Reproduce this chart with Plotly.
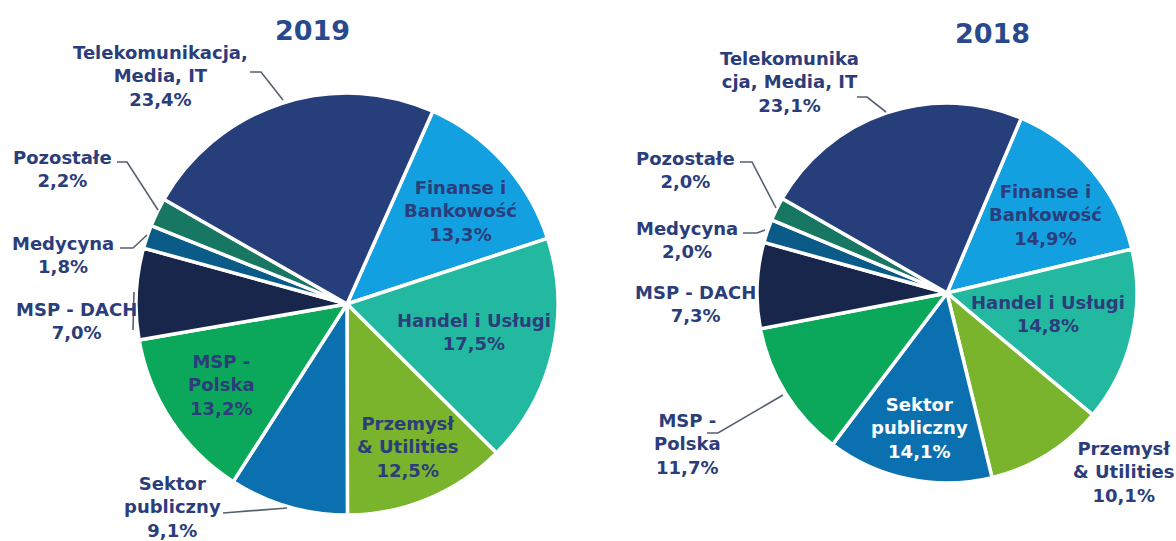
import plotly.graph_objects as go

W, H = 1176, 541

# ---- data ----
categories = ["Finanse i Bankowość", "Handel i Usługi", "Przemysł & Utilities",
              "Sektor publiczny", "MSP - Polska", "MSP - DACH", "Medycyna",
              "Pozostałe", "Telekomunikacja, Media, IT"]
values_2019 = [13.3, 17.5, 12.5, 9.1, 13.2, 7.0, 1.8, 2.2, 23.4]
values_2018 = [14.9, 14.8, 10.1, 14.1, 11.7, 7.3, 2.0, 2.0, 23.1]
titles = ["2019", "2018"]

colors = ["#12a0e0", "#22b9a0", "#79b42c", "#0b70af", "#0ba85b",
          "#18264b", "#0b5b88", "#187762", "#263f7b"]

TXT = "#2b3d7a"
LINE = "#56606f"
FONT = "DejaVu Sans"


def pxx(x):
    return x / W


def pxy(y):
    return 1 - y / H


def dom(cx, cy, r):
    return dict(x=[pxx(cx - r), pxx(cx + r)], y=[pxy(cy + r), pxy(cy - r)])


fig = go.Figure()
fig.add_trace(go.Pie(labels=categories, values=values_2019, sort=False,
                     direction="clockwise", rotation=24,
                     marker=dict(colors=colors, line=dict(color="white", width=3.5)),
                     textinfo="none", hoverinfo="label+percent",
                     domain=dom(347, 304, 211), showlegend=False))
fig.add_trace(go.Pie(labels=categories, values=values_2018, sort=False,
                     direction="clockwise", rotation=23,
                     marker=dict(colors=colors, line=dict(color="white", width=3.5)),
                     textinfo="none", hoverinfo="label+percent",
                     domain=dom(947, 293, 190), showlegend=False))


def fmt(v):
    return f"{v:.1f}".replace(".", ",") + "%"


# label texts (line-broken names), built from categories
names_2019 = ["Finanse i<br>Bankowość", "Handel i Usługi", "Przemysł<br>& Utilities",
              "Sektor<br>publiczny", "MSP -<br>Polska", "MSP - DACH", "Medycyna",
              "Pozostałe", "Telekomunikacja,<br>Media, IT"]
names_2018 = ["Finanse i<br>Bankowość", "Handel i Usługi", "Przemysł<br>& Utilities",
              "Sektor<br>publiczny", "MSP -<br>Polska", "MSP - DACH", "Medycyna",
              "Pozostałe", "Telekomunika<br>cja, Media, IT"]

# label centre positions (px) and text colours
pos_2019 = [(460, 211), (474, 332), (407, 447), (172, 507), (222, 385),
            (76, 321), (63, 255), (62, 169), (160, 76)]
pos_2018 = [(1045, 215), (1048, 314), (1123, 472), (919, 428), (687, 444),
            (695, 304), (687, 240), (685, 170), (789, 82)]
col_2018 = [TXT, TXT, TXT, "white", TXT, TXT, TXT, TXT, TXT]

for names, vals, poss, cols in [(names_2019, values_2019, pos_2019, [TXT] * 9),
                                (names_2018, values_2018, pos_2018, col_2018)]:
    for n, v, (x, y), c in zip(names, vals, poss, cols):
        fig.add_annotation(x=pxx(x), y=pxy(y), xref="paper", yref="paper",
                           text=f"<b>{n}<br>{fmt(v)}</b>", showarrow=False,
                           font=dict(family=FONT, size=18, color=c),
                           align="center", xanchor="center", yanchor="middle")

# titles
for t, (x, y) in zip(titles, [(312, 30), (992, 33)]):
    fig.add_annotation(x=pxx(x), y=pxy(y), xref="paper", yref="paper",
                       text=f"<b>{t}</b>", showarrow=False,
                       font=dict(family=FONT, size=27, color="#284a8c"),
                       xanchor="center", yanchor="middle")

# leader lines (px polylines)
leaders = [
    [(250, 72), (261, 72), (283, 100)],
    [(117, 162), (127, 162), (158, 210)],
    [(120, 248), (133, 248), (147, 235)],
    [(134, 292), (133, 330)],
    [(223, 513), (287, 508)],
    [(857, 97), (867, 97), (886, 112)],
    [(740, 162), (752, 162), (776, 208)],
    [(743, 233), (757, 233), (765, 230)],
    [(707, 433), (718, 433), (783, 395)],
]
for pts in leaders:
    path = "M " + " L ".join(f"{pxx(x)},{pxy(y)}" for x, y in pts)
    fig.add_shape(type="path", path=path, xref="paper", yref="paper",
                  line=dict(color=LINE, width=1.6))

fig.update_layout(width=W, height=H, margin=dict(l=0, r=0, t=0, b=0),
                  paper_bgcolor="white", plot_bgcolor="white",
                  font=dict(family=FONT))
fig.write_html("out.html", config={"displayModeBar": False},
               post_script="document.body.style.margin='0';document.body.style.overflow='hidden';")
